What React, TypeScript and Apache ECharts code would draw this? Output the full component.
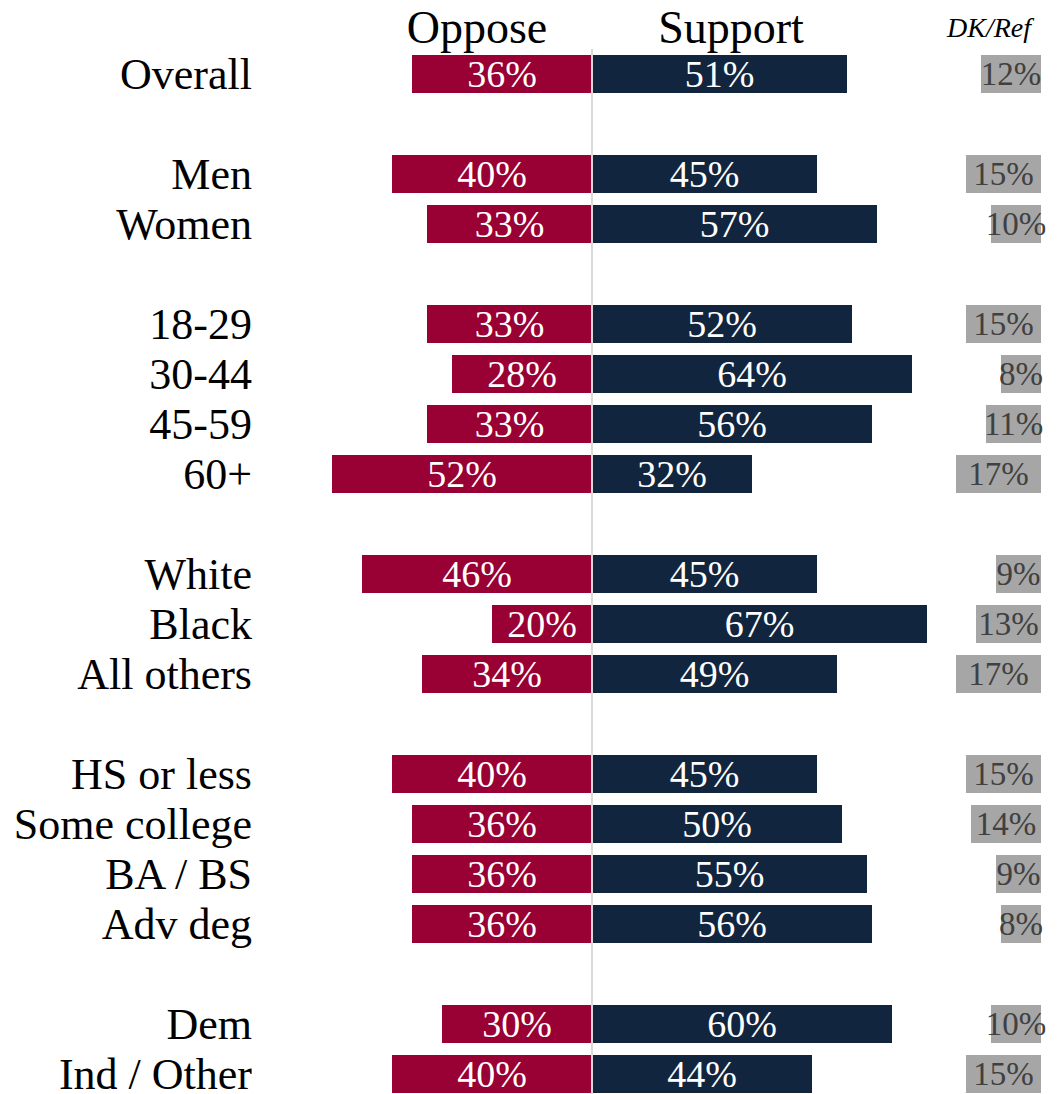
import React, { useEffect, useRef } from "react";
import * as echarts from "echarts";

const categories = [
  "Overall", "",
  "Men", "Women", "",
  "18-29", "30-44", "45-59", "60+", "",
  "White", "Black", "All others", "",
  "HS or less", "Some college", "BA / BS", "Adv deg", "",
  "Dem", "Ind / Other",
];
const oppose: (number | null)[] = [36, null, 40, 33, null, 33, 28, 33, 52, null, 46, 20, 34, null, 40, 36, 36, 36, null, 30, 40];
const support: (number | null)[] = [51, null, 45, 57, null, 52, 64, 56, 32, null, 45, 67, 49, null, 45, 50, 55, 56, null, 60, 44];
const dkRef: (number | null)[] = [12, null, 15, 10, null, 15, 8, 11, 17, null, 9, 13, 17, null, 15, 14, 9, 8, null, 10, 15];
const headers = { oppose: "Oppose", support: "Support", dk: "DK/Ref" };

const FONT = "'Liberation Serif', 'Times New Roman', serif";

export default function App() {
  const ref = useRef<HTMLDivElement>(null);
  useEffect(() => {
    if (!ref.current) return;
    const chart = echarts.init(ref.current, undefined, { renderer: "svg" });
    const pct = (p: any) => (p.value == null ? "" : Math.abs(p.value) + "%");
    chart.setOption({
      animation: false,
      backgroundColor: "#ffffff",
      grid: [
        { left: 292, width: 650, top: 49, height: 1050, containLabel: false },
        { left: 941, width: 100, top: 49, height: 1050, containLabel: false },
      ],
      xAxis: [
        { type: "value", gridIndex: 0, min: -60, max: 70, show: false },
        { type: "value", gridIndex: 1, min: 0, max: 20, inverse: true, show: false },
      ],
      yAxis: [
        {
          type: "category",
          gridIndex: 0,
          data: categories,
          inverse: true,
          axisLine: { show: false },
          axisTick: { show: false },
          splitLine: { show: false },
          axisLabel: { interval: 0, color: "#000", fontFamily: FONT, fontSize: 44, lineHeight: 38, margin: 40 },
        },
        {
          type: "category",
          gridIndex: 1,
          data: categories,
          inverse: true,
          show: false,
        },
      ],
      graphic: [
        { type: "text", x: 477, y: 27, style: { text: headers.oppose, fill: "#000", font: `46px ${FONT}`, align: "center", verticalAlign: "middle" } },
        { type: "text", x: 731, y: 27, style: { text: headers.support, fill: "#000", font: `46px ${FONT}`, align: "center", verticalAlign: "middle" } },
        { type: "text", x: 989, y: 27, style: { text: headers.dk, fill: "#000", font: `italic 28px ${FONT}`, align: "center", verticalAlign: "middle" } },
      ],
      series: [
        {
          type: "bar",
          name: "Oppose",
          xAxisIndex: 0,
          yAxisIndex: 0,
          stack: "a",
          barWidth: 38,
          data: oppose.map((v) => (v == null ? null : -v)),
          itemStyle: { color: "#990033" },
          label: { show: true, position: "inside", color: "#fff", fontFamily: FONT, fontSize: 38, lineHeight: 36, formatter: pct },
        },
        {
          type: "bar",
          name: "Support",
          xAxisIndex: 0,
          yAxisIndex: 0,
          stack: "a",
          barWidth: 38,
          data: support,
          itemStyle: { color: "#12253F" },
          label: { show: true, position: "inside", color: "#fff", fontFamily: FONT, fontSize: 38, lineHeight: 36, formatter: pct },
          markLine: {
            silent: true,
            symbol: "none",
            label: { show: false },
            lineStyle: { color: "#d9d9d9", width: 2, type: "solid" },
            data: [{ xAxis: 0 }],
          },
        },
        {
          type: "bar",
          name: "DK/Ref",
          xAxisIndex: 1,
          yAxisIndex: 1,
          barWidth: 38,
          data: dkRef,
          itemStyle: { color: "#A6A6A6" },
          label: { show: true, position: "inside", color: "#404040", fontFamily: FONT, fontSize: 33, lineHeight: 34, formatter: pct },
        },
      ],
    });
    return () => chart.dispose();
  }, []);
  return <div ref={ref} style={{ position: "fixed", left: 0, top: 0, width: 1063, height: 1110 }} />;
}
